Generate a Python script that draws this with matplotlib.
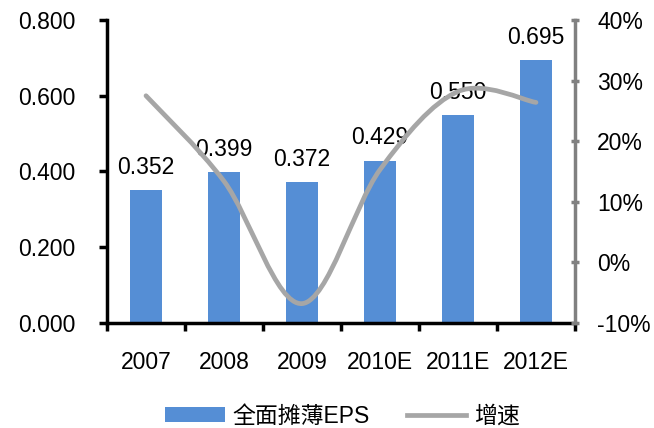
import matplotlib
matplotlib.use("Agg")
import matplotlib.pyplot as plt
from matplotlib.path import Path
from matplotlib.patches import PathPatch
from matplotlib.lines import Line2D
from matplotlib.patches import Patch
import numpy as np

plt.rcParams['font.family'] = ['Liberation Sans', 'Noto Sans CJK SC', 'DejaVu Sans']

years = ["2007", "2008", "2009", "2010E", "2011E", "2012E"]
eps = [0.352, 0.399, 0.372, 0.429, 0.550, 0.695]
growth = [27.5, 13.4, -6.8, 15.3, 28.2, 26.4]
eps_ticks = [0.0, 0.2, 0.4, 0.6, 0.8]
growth_ticks = [-10, 0, 10, 20, 30, 40]

bar_color = "#558ED5"
line_color = "#A6A6A6"
fs = 16.5

fig = plt.figure(figsize=(6.54, 4.28), dpi=100)
ax = fig.add_axes([0.1636, 0.2453, 0.7156, 0.708])
ax2 = ax.twinx()

x = np.arange(len(years))
ax.bar(x, eps, width=0.4, color=bar_color, zorder=2)
for xi, v in zip(x, eps):
    ax.annotate(f"{v:.3f}", (xi, v), xytext=(0, 8), textcoords="offset points",
                ha="center", va="bottom", fontsize=fs, zorder=5)

ax.set_xlim(-0.5, len(years) - 0.5)
ax.set_ylim(0, 0.8)
ax.set_yticks(eps_ticks)
ax.set_yticklabels([f"{t:.3f}" for t in eps_ticks])
ax.set_xticks(x)
ax.set_xticklabels(years)
ax.set_xticks(np.arange(-0.5, len(years)), minor=True)
ax.tick_params(axis="x", which="major", length=0, pad=20, labelsize=fs)
ax.tick_params(axis="x", which="minor", length=6, width=2.5, direction="out")
ax.tick_params(axis="y", length=6, width=2.5, direction="out", pad=17, labelsize=fs)

for s in ["top", "right"]:
    ax.spines[s].set_visible(False)
ax.spines["left"].set_linewidth(2.5)
ax.spines["bottom"].set_linewidth(2.5)

# smoothed growth curve (Catmull-Rom as cubic Bezier segments)
pts = np.column_stack([x, growth]).astype(float)
verts = [tuple(pts[0])]
codes = [Path.MOVETO]
n = len(pts)
for i in range(n - 1):
    p0 = pts[max(i - 1, 0)]
    p1 = pts[i]
    p2 = pts[i + 1]
    p3 = pts[min(i + 2, n - 1)]
    c1 = p1 + (p2 - p0) / 6.0
    c2 = p2 - (p3 - p1) / 6.0
    verts += [tuple(c1), tuple(c2), tuple(p2)]
    codes += [Path.CURVE4] * 3
ax2.add_patch(PathPatch(Path(verts, codes), facecolor="none", edgecolor=line_color,
                        lw=3.4, capstyle="round", joinstyle="round", zorder=3))

ax2.set_ylim(-10, 40)
ax2.set_yticks(growth_ticks)
ax2.set_yticklabels([f"{t}%" for t in growth_ticks])
ax2.tick_params(axis="y", length=6, width=2.5, direction="inout", pad=13,
                labelsize=fs, color="#808080")
for s in ["top", "left", "bottom"]:
    ax2.spines[s].set_visible(False)
ax2.spines["right"].set_linewidth(2.5)
ax2.spines["right"].set_color("#808080")

handles = [Patch(facecolor=bar_color, edgecolor="none"),
           Line2D([], [], color=line_color, lw=3.4)]
fig.legend(handles, ["全面摊薄EPS", "增速"], loc="center",
           bbox_to_anchor=(0.524, 0.028), ncol=2, frameon=False, fontsize=fs,
           handlelength=2.6, handleheight=0.6, columnspacing=1.6, handletextpad=0.35)

fig.savefig("out.png", dpi=100)
